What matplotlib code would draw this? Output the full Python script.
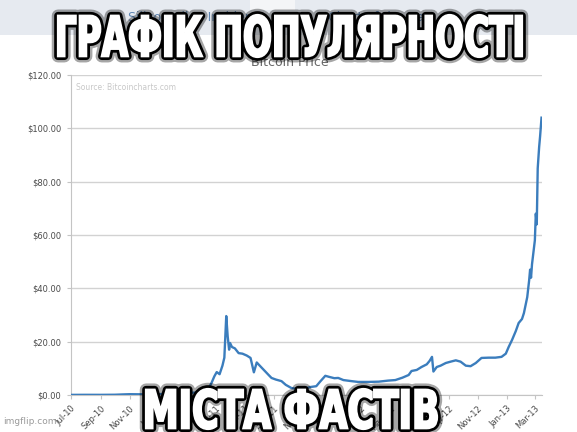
import matplotlib
matplotlib.use('Agg')
import matplotlib.pyplot as plt
import matplotlib.dates as mdates
from matplotlib.patches import Rectangle, PathPatch
from matplotlib.textpath import TextPath
from matplotlib.font_manager import FontProperties
from matplotlib.transforms import Affine2D
import pandas as pd

# ---- data ----
dates = [
    '2010-07-01', '2010-08-01', '2010-09-01', '2010-10-01', '2010-10-23', '2010-11-01',
    '2010-12-01', '2011-01-01', '2011-02-01', '2011-02-18', '2011-03-01', '2011-03-28',
    '2011-04-08', '2011-04-16', '2011-04-22', '2011-04-28', '2011-05-03', '2011-05-09',
    '2011-05-15', '2011-05-19', '2011-05-23', '2011-05-26', '2011-05-29', '2011-05-31',
    '2011-06-04', '2011-06-10', '2011-06-18', '2011-06-26', '2011-07-05', '2011-07-13',
    '2011-07-20', '2011-07-26', '2011-08-04', '2011-08-12', '2011-08-20', '2011-08-26',
    '2011-09-04', '2011-09-16', '2011-09-25', '2011-10-07', '2011-10-22', '2011-11-03',
    '2011-11-16', '2011-11-28', '2011-12-06', '2011-12-17', '2011-12-25', '2012-01-05',
    '2012-01-13', '2012-01-24', '2012-02-10', '2012-02-24', '2012-03-17', '2012-04-07',
    '2012-04-27', '2012-05-12', '2012-05-27', '2012-06-09', '2012-06-15', '2012-06-26',
    '2012-07-06', '2012-07-17', '2012-07-23', '2012-07-28', '2012-07-31', '2012-08-07',
    '2012-08-15', '2012-08-26', '2012-09-05', '2012-09-16', '2012-09-26', '2012-10-07',
    '2012-10-17', '2012-10-28', '2012-11-09', '2012-11-24', '2012-12-08', '2012-12-21',
    '2012-12-30', '2013-01-05', '2013-01-12', '2013-01-20', '2013-01-26', '2013-02-02',
    '2013-02-06', '2013-02-13', '2013-02-17', '2013-02-19', '2013-02-21', '2013-02-23',
    '2013-03-01', '2013-03-03', '2013-03-05', '2013-03-07', '2013-03-10', '2013-03-12',
    '2013-03-15',
]
price = [
    0.05, 0.07, 0.06, 0.10, 0.25, 0.30,
    0.25, 0.30, 0.60, 0.90, 0.85, 0.90,
    1.3, 2.5, 4.5, 7.0, 8.6, 7.8,
    11.0, 14.0, 29.6, 22.0, 17.0, 19.5,
    18.0, 17.5, 15.7, 15.5, 14.8, 13.9,
    8.5, 12.2, 10.5, 9.0, 7.5, 6.4,
    5.8, 5.2, 3.8, 2.6, 2.2, 2.4,
    3.0, 3.3, 5.0, 7.2, 6.8, 6.3,
    6.4, 5.6, 5.2, 4.9, 4.9, 5.0,
    5.4, 5.6, 6.5, 7.5, 9.0, 9.4,
    10.5, 11.5, 12.8, 14.3, 8.8, 10.5,
    11.0, 12.0, 12.5, 13.0, 12.5, 11.0,
    10.8, 12.0, 13.9, 14.0, 14.0, 14.3,
    15.5, 18.0, 20.6, 24.0, 27.0, 28.5,
    30.7, 36.7, 43.0, 47.0, 44.0, 49.0,
    58.0, 68.0, 64.0, 85.0, 93.0, 97.0,
    104.0,
]
y_ticks = [0, 20, 40, 60, 80, 100, 120]
top_caption = 'ГРАФІК ПОПУЛЯРНОСТІ'
bottom_caption = 'МІСТА ФАСТІВ'

W, H = 577, 432
LINE_BLUE = '#3b7dbd'
GRID_GREY = '#d2d2d2'
TEXT_GREY = '#4a4a4a'

fig = plt.figure(figsize=(W / 100, H / 100), dpi=100)
fig.patch.set_facecolor('white')

# header band of the original screenshot
fig.patches.append(Rectangle((0, 1 - 35 / H), 1, 35 / H, transform=fig.transFigure,
                             facecolor='#e6eaf0', edgecolor='none', zorder=0))
fig.patches.append(Rectangle((250 / W, 1 - 10 / H), 45 / W, 10 / H, transform=fig.transFigure,
                             facecolor='#f4f5f7', edgecolor='none', zorder=0))
fig.text(128 / W, 1 - 17 / H, 'Silicon Alley Insider', color='#5f86b3', fontsize=9,
         va='center', ha='left')
fig.text(432 / W, 1 - 17 / H, 'Chart of the Day', color='#5f86b3', fontsize=9,
         va='center', ha='right')
fig.text(290 / W, 1 - 62 / H, 'Bitcoin Price', color='#666666', fontsize=9,
         va='center', ha='center')

# ---- the chart itself ----
ax = fig.add_axes([71 / W, 1 - 395 / H, (542 - 71) / W, (395 - 75) / H])
x = pd.to_datetime(dates)
ax.plot(x, price, color=LINE_BLUE, lw=1.7, solid_joinstyle='round', zorder=3)

ax.set_ylim(0, 120)
ax.set_yticks(y_ticks)
ax.yaxis.set_major_formatter(plt.FuncFormatter(lambda v, _: f'${v:.2f}'))
ax.set_xlim(pd.Timestamp('2010-07-01'), pd.Timestamp('2013-03-16'))
ax.set_xticks(pd.date_range('2010-07-01', '2013-03-01', freq='2MS'))
ax.xaxis.set_major_formatter(mdates.DateFormatter('%b-%y'))
for lab in ax.get_xticklabels():
    lab.set_rotation(45)
    lab.set_ha('right')
    lab.set_rotation_mode('anchor')

ax.grid(axis='y', color=GRID_GREY, lw=1)
ax.set_axisbelow(True)
for side in ('top', 'right'):
    ax.spines[side].set_visible(False)
for side in ('left', 'bottom'):
    ax.spines[side].set_color('#c4c4c4')
ax.tick_params(axis='both', colors='#c4c4c4', labelcolor=TEXT_GREY, labelsize=6, length=3)
ax.tick_params(axis='y', pad=4)
ax.text(0.01, 0.975, 'Source: Bitcoincharts.com', transform=ax.transAxes,
        color='#c8c8c8', fontsize=5.5, va='top')

fig.text(3 / W, 1 - 422 / H, 'imgflip.com', color='#9a9a9a', fontsize=6.5, va='center')

# ---- meme captions: bold letters stretched into a box, black outline ----
over = fig.add_axes([0, 0, 1, 1], zorder=10)
over.set_xlim(0, W)
over.set_ylim(0, H)
over.axis('off')
over.patch.set_alpha(0)


def caption(s, x0, x1, ytop, ybot):
    tp = TextPath((0, 0), s, size=100,
                  prop=FontProperties(family='DejaVu Sans', weight='bold'))
    bb = tp.get_extents()
    tr = (Affine2D().translate(-bb.x0, -bb.y0)
          .scale((x1 - x0) / bb.width, (ybot - ytop) / bb.height)
          .translate(x0, H - ybot))
    path = tr.transform_path(tp)
    # soft dark halo, solid outline, then fattened white letters
    over.add_patch(PathPatch(path, fc='black', ec='black', lw=9, alpha=0.35, joinstyle='round'))
    over.add_patch(PathPatch(path, fc='black', ec='black', lw=5.5, joinstyle='round'))
    over.add_patch(PathPatch(path, fc='white', ec='white', lw=1.6, joinstyle='miter'))


caption(top_caption, 58, 522, 15, 57)
caption(bottom_caption, 146, 437, 389, 429)

fig.savefig('out.png', dpi=100)
